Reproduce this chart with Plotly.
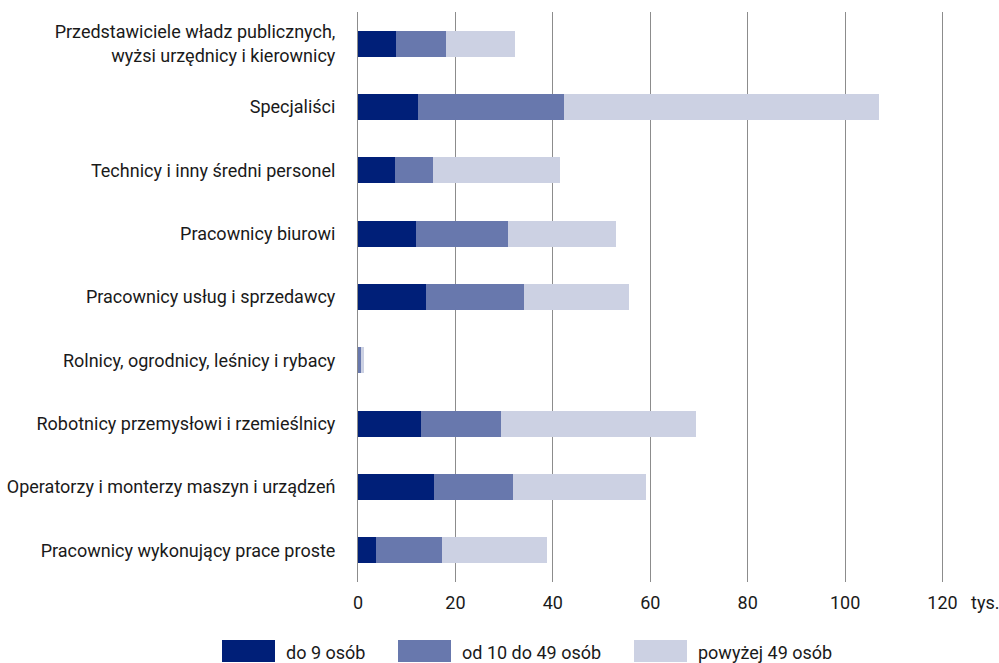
import plotly.graph_objects as go

categories = [
    "Przedstawiciele władz publicznych,<br>wyżsi urzędnicy i kierownicy",
    "Specjaliści",
    "Technicy i inny średni personel",
    "Pracownicy biurowi",
    "Pracownicy usług i sprzedawcy",
    "Rolnicy, ogrodnicy, leśnicy i rybacy",
    "Robotnicy przemysłowi i rzemieślnicy",
    "Operatorzy i monterzy maszyn i urządzeń",
    "Pracownicy wykonujący prace proste",
]
series_names = ["do 9 osób", "od 10 do 49 osób", "powyżej 49 osób"]
small = [7.8, 12.3, 7.6, 11.9, 13.9, 0.1, 12.9, 15.6, 3.7]
medium = [10.2, 29.9, 7.8, 18.8, 20.1, 0.6, 16.4, 16.2, 13.5]
large = [14.2, 64.8, 26.0, 22.2, 21.7, 0.5, 40.0, 27.4, 21.7]
colors = ["#001f78", "#6878ad", "#ccd1e3"]
x_ticks = [0, 20, 40, 60, 80, 100, 120]

FONT = "Roboto, Noto Sans, sans-serif"
FS = 18

L, R, T, B = 358, 36, 12, 81
PW = 999 - L - R
PH = 663 - T - B

fig = go.Figure()
for name, vals, col in zip(series_names, [small, medium, large], colors):
    fig.add_trace(go.Bar(
        y=categories, x=vals, name=name, orientation="h",
        marker=dict(color=col, line=dict(width=0)),
        showlegend=False, hoverinfo="x+name",
    ))

fig.update_layout(
    width=999, height=663,
    barmode="stack", bargap=0.59,
    paper_bgcolor="white", plot_bgcolor="white",
    margin=dict(l=L, r=R, t=T, b=B, autoexpand=False),
    font=dict(family=FONT, size=FS, color="#1a1a1a"),
    xaxis=dict(
        range=[0, 124.2], tickvals=x_ticks, showgrid=True,
        gridcolor="#8c8c8c", gridwidth=1, zeroline=False,
        showline=False, ticks="", ticklabelstandoff=8,
        tickfont=dict(size=FS), fixedrange=True,
    ),
    yaxis=dict(
        autorange="reversed", showgrid=False, zeroline=False,
        showline=True, linecolor="#8c8c8c", linewidth=1,
        ticks="", ticklabelstandoff=18, tickfont=dict(size=FS),
        automargin=False,
    ),
)

def px_x(px):
    return (px - L) / PW

def px_y(py):
    return (663 - B - py) / PH

fig.add_annotation(xref="paper", yref="paper", x=px_x(985), y=px_y(603),
                   text="tys.", showarrow=False,
                   font=dict(size=FS), xanchor="center", yanchor="middle")

# custom legend
legend_x = [222, 398, 634]
for (lx, name, col) in zip(legend_x, series_names, colors):
    fig.add_shape(type="rect", xref="paper", yref="paper",
                  x0=px_x(lx), x1=px_x(lx + 53),
                  y0=px_y(662), y1=px_y(640),
                  fillcolor=col, line=dict(width=0))
    fig.add_annotation(xref="paper", yref="paper",
                       x=px_x(lx + 62), y=px_y(652),
                       text=name, showarrow=False, xanchor="left",
                       yanchor="middle", font=dict(size=FS))

fig.write_html("out.html",
               config={"displayModeBar": False},
               post_script="document.body.style.margin='0';document.body.style.padding='0';")
